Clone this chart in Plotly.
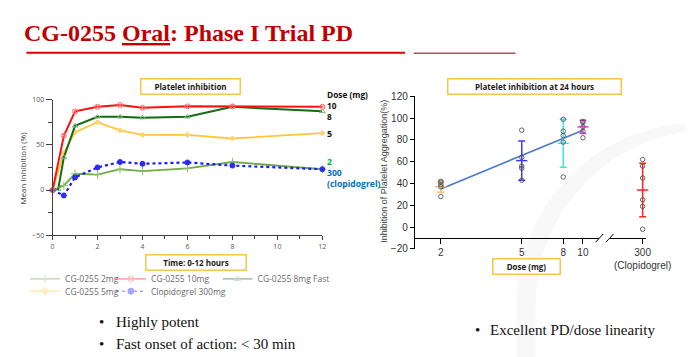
import plotly.graph_objects as go

W, H = 693, 357

def X(px):
    return px / W

def Y(py):
    return 1 - py / H

# ---------------- data: left chart (mean inhibition over time) ----------------
time_std = [0, 0.5, 1, 2, 3, 4, 6, 8, 12]
time_8mg = [0, 0.25, 0.5, 1, 2, 3, 4, 6, 8, 12]
inh_2mg = [0, 5, 18, 17, 23, 21, 24, 31, 23]
inh_5mg = [0, 41, 64, 75, 66, 61, 61, 57, 63]
inh_8mg = [0, 1, 36, 71, 81, 81, 80, 81, 92, 87]
inh_10mg = [0, 60, 87, 92, 94, 91, 92.5, 92.5, 92]
inh_clop = [0, -6, 14, 25, 31, 29, 30.5, 27, 23]
time_ticks = [0, 2, 4, 6, 8, 10, 12]
inh_ticks = [-50, 0, 50, 100]

# ---------------- data: right chart (inhibition at 24 h) ----------------
dose_cats = [2, 5, 8, 10]
pts_2mg = [28, 37, 39, 41, 42]
pts_5mg = [89, 64, 56, 54, 43]
pts_8mg = [99, 88, 84, 78, 46]
pts_10mg = [97, 96, 92, 88, 82]
pts_clop = [62, 56, 45, 25, 19, -2]
mean_dose = [37, 61, 77, 92]
sd_dose = [5, 18, 22, 6]
mean_clop = [34]
sd_clop = [24.5]
fit_x = [2, 10]
fit_y = [35, 89]
agg_ticks = [-20, 0, 20, 40, 60, 80, 100, 120]

fig = go.Figure()

LFONT = "Open Sans, Noto Sans, sans-serif"
RFONT = "Liberation Sans, Arial, sans-serif"
SERIF = "Liberation Serif, Times New Roman, serif"

left_series = [
    ("CG-0255 2mg", time_std, inh_2mg, "#6FAA46", "solid", "cross-thin-open", "#8CC06A", 1.8, "legend", 6),
    ("CG-0255 5mg", time_std, inh_5mg, "#FFC63A", "solid", "diamond", "#FFD470", 1.8, "legend4", 4),
    ("CG-0255 8mg Fast", time_8mg, inh_8mg, "#136B13", "solid", "triangle-up-open", "#80B880", 2.0, "legend3", 5),
    ("Clopidogrel 300mg", time_std, inh_clop, "#1A1AFF", "dot", "circle", "#2A2AFF", 2.2, "legend5", 5),
    ("CG-0255 10mg", time_std, inh_10mg, "#FF1010", "solid", "circle-x-open", "#FF7070", 2.0, "legend2", 5),
]

for name, tx, ty, col, dash, sym, mcol, lw, leg, ms in left_series:
    fig.add_trace(go.Scatter(
        x=tx, y=ty, mode="lines+markers", name=name, showlegend=False,
        line=dict(color=col, width=lw, dash=dash),
        marker=dict(symbol=sym, size=ms, color=mcol, line=dict(color=mcol, width=1)),
        cliponaxis=False, xaxis="x", yaxis="y"))
    # faded legend entry (as in the reference legend)
    fig.add_trace(go.Scatter(
        x=[None], y=[None], mode="lines+markers", name=name, legend=leg,
        opacity=0.4,
        line=dict(color=col, width=1.5, dash=dash),
        marker=dict(symbol=sym, size=6, color=mcol, line=dict(color=col, width=1)),
        xaxis="x", yaxis="y"))

# ---------------- right chart traces ----------------
fig.add_trace(go.Scatter(x=fit_x, y=fit_y, mode="lines", showlegend=False,
                         line=dict(color="#4A78D0", width=1.6), xaxis="x2", yaxis="y2"))

ebar_cols = ["#FFB870", "#3A3AF5", "#38E6E6", "#D245D2"]
pts_all = [pts_2mg, pts_5mg, pts_8mg, pts_10mg]
for d, pts, m, s, c in zip(dose_cats, pts_all, mean_dose, sd_dose, ebar_cols):
    fig.add_trace(go.Scatter(
        x=[d], y=[m], mode="markers", showlegend=False,
        marker=dict(symbol="line-ew", size=8, line=dict(color=c, width=1.5)),
        error_y=dict(type="data", array=[s], color=c, thickness=1.5, width=3.5),
        cliponaxis=False, xaxis="x2", yaxis="y2"))
    fig.add_trace(go.Scatter(
        x=[d] * len(pts), y=pts, mode="markers", showlegend=False,
        marker=dict(symbol="circle-open", size=4.5, color="#555555", line=dict(width=0.9)),
        cliponaxis=False, xaxis="x2", yaxis="y2"))

fig.add_trace(go.Scatter(
    x=[300], y=mean_clop, mode="markers", showlegend=False,
    marker=dict(symbol="line-ew", size=8, line=dict(color="#FF2020", width=1.5)),
    error_y=dict(type="data", array=sd_clop, color="#FF2020", thickness=1.5, width=3.5),
    cliponaxis=False, xaxis="x3", yaxis="y2"))
fig.add_trace(go.Scatter(
    x=[300] * len(pts_clop), y=pts_clop, mode="markers", showlegend=False,
    marker=dict(symbol="circle-open", size=4.5, color="#555555", line=dict(width=0.9)),
    cliponaxis=False, xaxis="x3", yaxis="y2"))

# ---------------- axes ----------------
axis_pos = Y(231.2)
fig.update_layout(
    width=W, height=H, margin=dict(l=0, r=0, t=0, b=0),
    paper_bgcolor="white", plot_bgcolor="rgba(0,0,0,0)",
    xaxis=dict(domain=[X(44.3), X(325)], range=[0, 12], tickvals=time_ticks,
               ticks="outside", ticklen=4, tickwidth=1, tickcolor="#404040",
               minor=dict(dtick=1, ticks="outside", ticklen=3, tickcolor="#404040"),
               showline=True, linecolor="#404040", linewidth=1,
               showgrid=False, zeroline=False, anchor="y",
               tickfont=dict(family=LFONT, size=7, color="#595959")),
    yaxis=dict(domain=[Y(228.3), Y(88.3)], range=[-50, 100], tickvals=inh_ticks,
               ticks="outside", ticklen=6, tickwidth=1, tickcolor="#404040",
               minor=dict(dtick=25, ticks="outside", ticklen=4, tickcolor="#404040"),
               showline=True, linecolor="#404040", linewidth=1,
               showgrid=False, zeroline=False, anchor="x",
               tickfont=dict(family=LFONT, size=7, color="#595959")),
    xaxis2=dict(domain=[X(421.7), X(613)], type="log", range=[0.1752, 1.0797],
                tickvals=dose_cats, ticktext=[str(d) for d in dose_cats],
                ticks="outside", ticklen=4.5, tickcolor="black",
                showline=True, linecolor="black", linewidth=1,
                showgrid=False, zeroline=False, anchor="free", position=axis_pos,
                tickfont=dict(family=RFONT, size=10, color="#333333")),
    xaxis3=dict(domain=[X(624), X(662)], range=[209.74, 309.74],
                tickvals=[300], ticktext=["300<br>(Clopidogrel)"],
                ticks="outside", ticklen=4.5, tickcolor="black",
                showline=True, linecolor="black", linewidth=1,
                showgrid=False, zeroline=False, anchor="free", position=axis_pos,
                tickfont=dict(family=RFONT, size=10, color="#333333")),
    yaxis2=dict(domain=[Y(242.3), Y(85)], range=[-20, 120], tickvals=agg_ticks,
                ticks="outside", ticklen=4.5, tickcolor="black",
                showline=True, linecolor="black", linewidth=1,
                showgrid=False, zeroline=False, anchor="x2",
                tickfont=dict(family=RFONT, size=10, color="#333333")),
)

# ---------------- legends (one per entry, positioned like the reference) ----------------
leg_pos = {"legend": (55.7, 273.3), "legend2": (145, 273.3), "legend3": (256, 273.3),
           "legend4": (55.7, 286), "legend5": (145, 286)}
for k, (tx, ty) in leg_pos.items():
    fig.update_layout({k: dict(x=X(tx - 40), y=Y(ty), xanchor="left", yanchor="middle",
                               bgcolor="rgba(0,0,0,0)", borderwidth=0,
                               font=dict(family=LFONT, size=8.5, color="#6A6A6A"),
                               itemwidth=30, orientation="v")})

# ---------------- shapes ----------------
shapes = []
# faint background watermark arch (bottom right)
WM = "#F8F8F8"
shapes.append(dict(type="circle", xref="paper", yref="paper", layer="below",
                   x0=X(527), x1=X(901), y0=Y(487), y1=Y(113),
                   fillcolor=WM, line=dict(width=0)))
shapes.append(dict(type="rect", xref="paper", yref="paper", layer="below",
                   x0=X(527), x1=X(720), y0=Y(357), y1=Y(300),
                   fillcolor=WM, line=dict(width=0)))
shapes.append(dict(type="circle", xref="paper", yref="paper", layer="below",
                   x0=X(547), x1=X(908), y0=Y(481), y1=Y(120),
                   fillcolor="white", line=dict(width=0)))
shapes.append(dict(type="rect", xref="paper", yref="paper", layer="below",
                   x0=X(547), x1=X(720), y0=Y(357), y1=Y(300),
                   fillcolor="white", line=dict(width=0)))
# title rules
shapes.append(dict(type="line", xref="paper", yref="paper", x0=X(17), x1=X(411), y0=Y(40), y1=Y(40),
                   line=dict(color="#E00000", width=2)))
shapes.append(dict(type="line", xref="paper", yref="paper", x0=X(420), x1=X(526), y0=Y(40.5), y1=Y(40.5),
                   line=dict(color="#A85454", width=1.6)))
# axis break marks
for x0 in (609.3, 620.0):
    shapes.append(dict(type="line", xref="paper", yref="paper",
                       x0=X(x0), x1=X(x0 + 8), y0=Y(235.5), y1=Y(227.0),
                       line=dict(color="black", width=1)))
fig.update_layout(shapes=shapes)

# ---------------- annotations ----------------
ann = []

def box(text, cx, cy, w):
    ann.append(dict(text="<b>" + text + "</b>", xref="paper", yref="paper",
                    x=X(cx), y=Y(cy), xanchor="center", yanchor="middle", showarrow=False,
                    width=w, height=12, borderpad=1, bordercolor="#F7C548", borderwidth=1.5,
                    bgcolor="white", font=dict(family=LFONT, size=8, color="#1A1A1A")))

box("Platelet inhibition", 187.7, 74.7, 96)
box("Time: 0-12 hours", 193.5, 256, 97)
box("Platelet inhibition at 24 hours", 546, 75, 170)
box("Dose (mg)", 537, 260.5, 64)

# title
ann.append(dict(text="<b>CG-0255 <u>Oral</u>: Phase I Trial PD</b>", xref="paper", yref="paper",
                x=X(185.5), y=Y(20), xanchor="center", yanchor="middle", showarrow=False,
                font=dict(family=SERIF, size=24, color="#C00000")))

# axis titles
ann.append(dict(text="Mean Inhibition (%)", xref="paper", yref="paper", x=X(13), y=Y(159),
                xanchor="center", yanchor="middle", textangle=-90, showarrow=False,
                font=dict(family=LFONT, size=8, color="#404040")))
ann.append(dict(text="Inhibition of Platelet Aggregation(%)", xref="paper", yref="paper",
                x=X(389), y=Y(162), xanchor="center", yanchor="middle", textangle=-90,
                showarrow=False, font=dict(family=RFONT, size=9, color="#404040")))

# dose labels at the end of the curves (grouped into multi-line blocks)
ann.append(dict(text="<b>Dose (mg)<br>10<br>8</b>", xref="paper", yref="paper",
                x=X(329), y=Y(94), xanchor="left", yanchor="middle", align="left",
                showarrow=False, borderpad=0,
                font=dict(family=LFONT, size=8.3, color="#111111")))
ann.append(dict(text="<b>5</b>", xref="paper", yref="paper",
                x=X(329), y=Y(123.3), xanchor="left", yanchor="middle",
                showarrow=False, borderpad=0,
                font=dict(family=LFONT, size=8.8, color="#111111")))
ann.append(dict(text="<b><span style='color:#00B050'>2</span><br>300<br>(clopidogrel)</b>",
                xref="paper", yref="paper", x=X(329), y=Y(164.3), xanchor="left",
                yanchor="middle", align="left", showarrow=False, borderpad=0,
                font=dict(family=LFONT, size=8.6, color="#0070C0")))

# bullets
bullets = [(91, 108, 318, "Highly potent"), (91, 108, 341, "Fast onset of action: &lt; 30 min"),
           (482, 497, 326, "Excellent PD/dose linearity")]
for bx, tx, yy, t in bullets:
    ann.append(dict(text="•", xref="paper", yref="paper", x=X(bx), y=Y(yy),
                    xanchor="left", yanchor="middle", showarrow=False,
                    font=dict(family=SERIF, size=15, color="#111111")))
    ann.append(dict(text=t, xref="paper", yref="paper", x=X(tx), y=Y(yy),
                    xanchor="left", yanchor="middle", showarrow=False,
                    font=dict(family=SERIF, size=15, color="#111111")))

fig.update_layout(annotations=ann)

fig.write_html("out.html")
